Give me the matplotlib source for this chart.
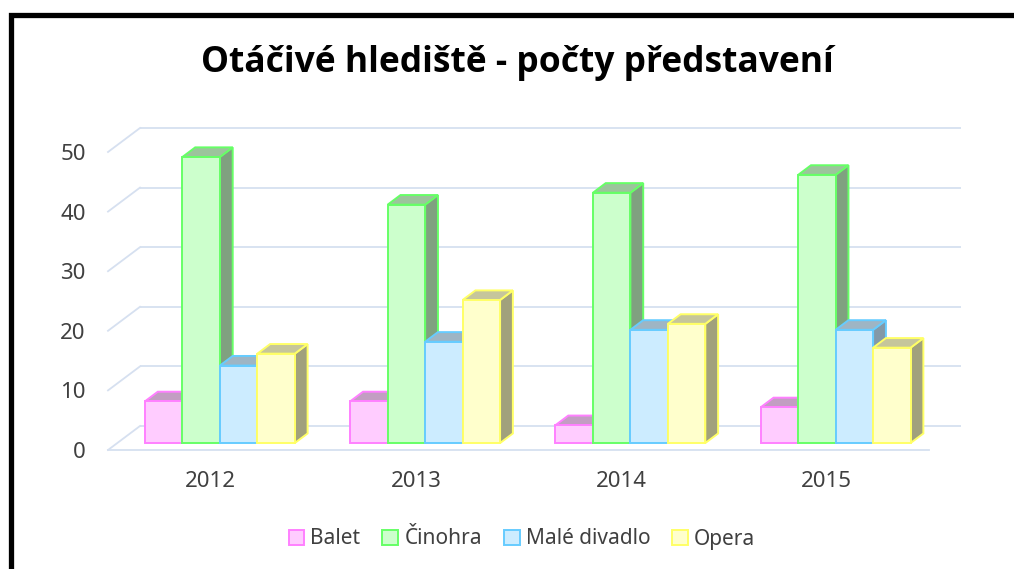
import matplotlib
matplotlib.use("Agg")
import matplotlib.pyplot as plt
from matplotlib.patches import Polygon, Patch, Rectangle

# data
years = ["2012", "2013", "2014", "2015"]
series = ["Balet", "Činohra", "Malé divadlo", "Opera"]
balet = [7, 7, 3, 6]
cinohra = [48, 40, 42, 45]
male_divadlo = [13, 17, 19, 19]
opera = [15, 24, 20, 16]
y_ticks = [0, 10, 20, 30, 40, 50]

values = [balet, cinohra, male_divadlo, opera]
face = ["#FFCCFF", "#CCFFCC", "#CCECFF", "#FFFFCC"]
edge = ["#FF80FF", "#66FF66", "#66CCFF", "#FFFF66"]
top_c = ["#C29EC2", "#9CC49C", "#9EB5C4", "#C6C69B"]
side_c = ["#A382A3", "#80A180", "#8399A8", "#A1A17C"]
grid_c = "#D6E0F0"
text_c = "#404040"

plt.rcParams['font.family'] = ['Noto Sans', 'DejaVu Sans']

W, H = 1014, 569
fig = plt.figure(figsize=(W / 100, H / 100), dpi=100)

# axes = front plane of the floor (pixel positions of the reference)
px0, px1 = 108, 929
py0, py1 = 450, 152
ax = fig.add_axes([px0 / W, 1 - py0 / H, (px1 - px0) / W, (py0 - py1) / H])
xmin, xmax = -0.5, 3.5
ax.set_xlim(xmin, xmax)
ax.set_ylim(0, 50)
for s in ax.spines.values():
    s.set_visible(False)

# depth of the 3d box, in pixels, turned into data units
p0 = ax.transData.transform((0, 0))
p1 = ax.transData.transform((1, 1))
ux = 32 / (p1[0] - p0[0])
uy = 24 / (p1[1] - p0[1])

# walls
for t in y_ticks:
    ax.plot([xmin + ux, xmax + ux], [t + uy, t + uy], color=grid_c, lw=1.3,
            clip_on=False, zorder=1, solid_capstyle='butt')
    ax.plot([xmin, xmin + ux], [t, t + uy], color=grid_c, lw=1.3,
            clip_on=False, zorder=1)
ax.plot([xmin, xmax], [0, 0], color=grid_c, lw=1.3, clip_on=False, zorder=1)

# bars
f0, f1 = 0.29, 0.69
bw = 0.1825
z = 2
for i in range(len(years)):
    left = i - 2 * bw
    for k in range(len(series)):
        v = values[k][i]
        xl = left + k * bw
        xr = xl + bw
        a0x, a0y = f0 * ux, f0 * uy
        a1x, a1y = f1 * ux, f1 * uy
        side = Polygon([(xr + a0x, a0y), (xr + a0x, v + a0y),
                        (xr + a1x, v + a1y), (xr + a1x, a1y)],
                       closed=True, facecolor=side_c[k], edgecolor=edge[k],
                       lw=1.4, clip_on=False, zorder=z)
        ax.add_patch(side)
        top = Polygon([(xl + a0x, v + a0y), (xr + a0x, v + a0y),
                       (xr + a1x, v + a1y), (xl + a1x, v + a1y)],
                      closed=True, facecolor=top_c[k], edgecolor=edge[k],
                      lw=1.4, clip_on=False, zorder=z + 1)
        ax.add_patch(top)
        front = Rectangle((xl + a0x, a0y), bw, v, facecolor=face[k],
                          edgecolor=edge[k], lw=1.4, clip_on=False, zorder=z + 2)
        ax.add_patch(front)
        z += 3

ax.set_yticks(y_ticks)
ax.set_yticklabels([str(t) for t in y_ticks])
ax.set_xticks(range(len(years)))
ax.set_xticklabels(years)
ax.tick_params(axis='y', length=0, pad=16, labelsize=16, labelcolor=text_c)
ax.tick_params(axis='x', length=0, pad=15, labelsize=16, labelcolor=text_c)

fig.text(517 / W, 1 - 63 / H, "Otáčivé hlediště - počty představení",
         ha='center', va='center', fontsize=25.5, fontweight='bold', color='black',
         family=['Open Sans', 'DejaVu Sans'])

handles = [Patch(facecolor=face[k], edgecolor=edge[k], lw=1.4, label=series[k])
           for k in range(len(series))]
fig.legend(handles=handles, loc='center', bbox_to_anchor=(522 / W, 1 - 539 / H),
           ncol=4, frameon=False, fontsize=15, handlelength=0.75, handleheight=0.75,
           handletextpad=0.3, columnspacing=1.05, labelcolor=text_c)

# outer frame, cut at right and bottom like the reference
fig.add_artist(Rectangle((10.5 / W, -0.1), 1.2, 1.1 - 14.5 / H, transform=fig.transFigure,
                         fill=False, edgecolor='black', lw=3.8, joinstyle='miter'))

fig.savefig("out.png", dpi=100)
